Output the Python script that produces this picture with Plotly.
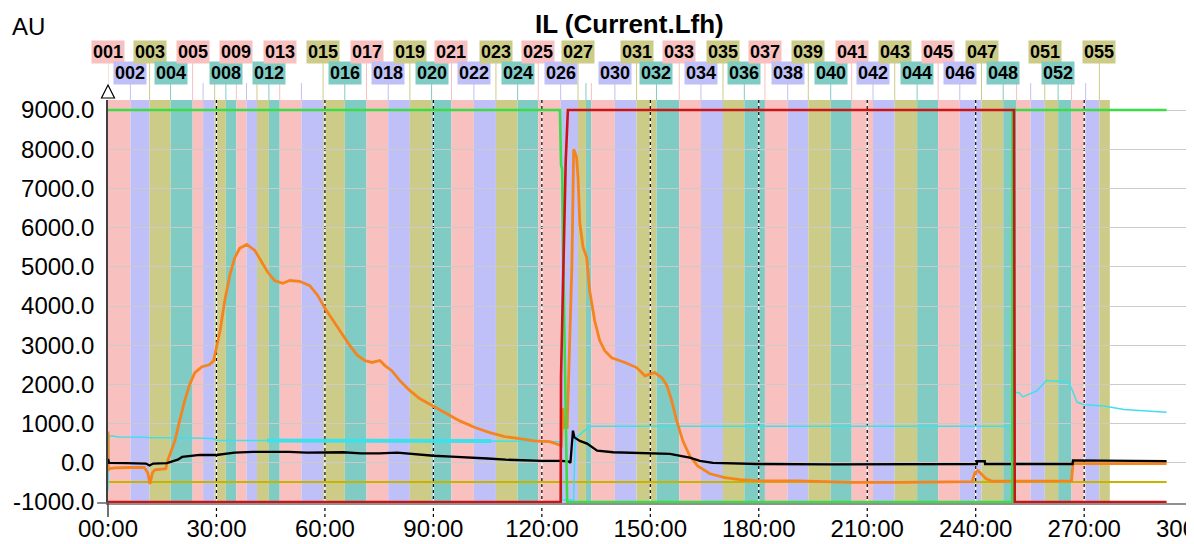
import plotly.graph_objects as go

# ---------------- data ----------------
band_starts = [0, 6.2, 11.5, 17.3, 23.4, 26.3, 29.5, 32.6, 35.5, 38.3, 41.2, 44.5, 47.5,
               53.5, 59.5, 65.5, 71.5, 77.5, 83.5, 89.5, 95.0, 101.2, 107.3, 113.3, 119.0,
               125.2, 130.0, 132.2, 133.7, 140.2, 146.2, 151.7, 158.0, 164.0, 170.1, 176.0,
               181.7, 188.0, 193.7, 199.9, 205.7, 211.6, 217.6, 223.8, 229.6, 235.6, 241.6,
               247.6, 251.3, 255.2, 259.1, 262.8, 266.5, 270.4, 274.2]
band_end = 277.1

top_labels = ["001", "003", "005", "009", "013", "015", "017", "019", "021", "023", "025",
              "027", "031", "033", "035", "037", "039", "041", "043", "045", "047", "051", "055"]
bottom_labels = ["002", "004", "008", "012", "016", "018", "020", "022", "024", "026", "030",
                 "032", "034", "036", "038", "040", "042", "044", "046", "048", "052"]

x_ticks = [0, 30, 60, 90, 120, 150, 180, 210, 240, 270, 300]
x_tick_text = ["00:00", "30:00", "60:00", "90:00", "120:00", "150:00", "180:00",
               "210:00", "240:00", "270:00", "300:00"]
y_ticks = [-1000, 0, 1000, 2000, 3000, 4000, 5000, 6000, 7000, 8000, 9000]
y_tick_text = ["-1000.0", "0.0", "1000.0", "2000.0", "3000.0", "4000.0", "5000.0",
               "6000.0", "7000.0", "8000.0", "9000.0"]

green_pts = [(0, 9000), (125.0, 9000), (125.3, 7600), (125.6, 7500), (126.0, 4700),
             (126.5, 1500), (127.0, -1000), (250.1, -1000), (250.2, 9000), (292.8, 9000)]

red_pts = [(0, -1000), (125.2, -1000), (125.3, 2200), (125.9, 4700), (126.3, 6200),
           (126.6, 7700), (127.2, 9000), (250.6, 9000), (250.8, -1000), (292.8, -1000)]

olive_pts = [(0, -490), (292.8, -490)]

cyan_pts = [(0, -700), (0.3, 700), (0.6, 690), (1.5, 680), (3, 660), (10, 650), (12, 640),
            (20, 640), (29, 620), (30, 570), (40, 565), (60, 560), (90, 560), (106, 560),
            (115, 550), (125.2, 540), (125.6, -950), (128.8, -950), (129.2, 600), (129.6, 650),
            (133.2, 930), (250.2, 930), (250.3, 4200), (250.5, 1800), (252, 1790),
            (253, 1680), (255, 1760), (257, 1840), (259.5, 2100), (265.5, 2060),
            (266.5, 1900), (268.0, 1550), (270.0, 1480), (275.5, 1450), (281.0, 1360),
            (287, 1330), (292.8, 1290)]

cyan_noisy_pts = [(44, 570), (50, 560), (60, 565), (70, 560), (80, 565), (90, 560),
                  (100, 560), (106, 555)]

orange_pts = [(0, 800), (0.05, -200), (0.3, -150), (2, -130), (6, -120), (10, -120),
              (11, -250), (11.6, -540), (12.3, -250), (13, -180), (16, -150), (16.3, 0),
              (17, 180), (18.5, 560), (19.8, 1070), (21.2, 1580), (22.6, 2000), (24, 2300),
              (26, 2450), (28, 2500), (29.2, 2600), (31, 3370), (32.3, 4140), (33.7, 4780),
              (35, 5220), (36.4, 5470), (38.4, 5570), (40.6, 5420), (42.6, 5110), (44.2, 4860),
              (46.1, 4650), (48.3, 4580), (50.3, 4650), (53, 4630), (55.8, 4520), (58, 4270),
              (60, 3940), (62.2, 3630), (64.1, 3370), (66.9, 2990), (69, 2740), (71, 2610),
              (73, 2560), (75.2, 2610), (76.6, 2480), (78.5, 2350), (80.7, 2100), (83.5, 1840),
              (86.2, 1640), (89.8, 1460), (93.1, 1280), (97.3, 1070), (101.5, 900),
              (105.6, 770), (109.7, 670), (113.9, 610), (118, 560), (122.2, 540), (123.8, 490),
              (125.4, 440), (125.8, 1400), (126.2, 900), (127, 900), (128.3, 5000),
              (128.8, 8000), (129.2, 7900), (129.6, 7800), (130.0, 7290), (130.5, 6110),
              (131.4, 5500), (132.4, 5240), (133.2, 4400), (134.6, 3630), (136, 3120),
              (137.4, 2860), (139.3, 2680), (143, 2560), (146.2, 2430), (148.5, 2220),
              (151.2, 2300), (153.2, 2170), (154.6, 1970), (155.9, 1590), (157.3, 1070),
              (159, 560), (160.9, 180), (163.1, -80), (166.5, -280), (170.6, -380),
              (174.8, -430), (180.3, -460), (191.3, -460), (205, -500), (219, -500),
              (232.8, -480), (239, -480), (239.8, -250), (240.6, -200), (241.7, -300),
              (242.8, -400), (244.5, -470), (250, -470), (251, -460), (266.5, -460),
              (266.9, 0), (267.5, -20), (292.8, -20)]

black_pts = [(0, 100), (0.3, 0), (5, -10), (10.5, -20), (11.5, -70), (12.5, -20), (16.3, -10),
             (19.3, 80), (20.5, 150), (25.4, 200), (30, 200), (35, 260), (40, 280), (45, 280),
             (50, 280), (55, 260), (60, 270), (65, 270), (70, 240), (75, 240), (80, 260),
             (85, 220), (90, 180), (95, 160), (100, 140), (105, 110), (110, 80), (115, 60),
             (120, 50), (125.5, 50), (127.5, 30), (127.9, 0), (128.3, 500), (128.6, 820),
             (129.0, 650), (130.5, 560), (132.5, 490), (135.3, 310), (139.7, 270),
             (146.3, 260), (155.4, 230), (160.9, 130), (163.7, 50), (167.3, 0), (180, -30),
             (200, -40), (220, -40), (240.3, -30), (240.4, 40), (242.5, 40), (242.6, -30),
             (266.8, -30), (266.9, 60), (268.5, 60), (270, 45), (292.8, 45)]

# ---------------- styling ----------------
band_colors = ["#F9C0C0", "#C0C0F8", "#CCCC88", "#80CCC4"]
FONT = "Arial, Liberation Sans, sans-serif"

fig = go.Figure()


def add_line(pts, color, width):
    fig.add_trace(go.Scatter(x=[p[0] for p in pts], y=[p[1] for p in pts], mode="lines",
                             line=dict(color=color, width=width), hoverinfo="skip",
                             showlegend=False))


add_line(olive_pts, "#C8B400", 2)
add_line(cyan_pts, "#3FE0EA", 1.5)
add_line(cyan_noisy_pts, "#3FE0EA", 4)
add_line(orange_pts, "#F5841F", 2.8)
add_line(black_pts, "#000000", 2.3)
add_line(green_pts, "#3CDC46", 2.6)
add_line(red_pts, "#CC1414", 2.6)

shapes = []
annotations = []
for i, s in enumerate(band_starts):
    e = band_starts[i + 1] if i + 1 < len(band_starts) else band_end
    col = band_colors[i % 4]
    shapes.append(dict(type="rect", xref="x", yref="paper", x0=s, x1=e, y0=0, y1=1,
                       fillcolor=col, line=dict(width=0), layer="below"))
    name = "%03d" % (i + 1)
    if name in top_labels:
        y1 = 1.094
        annotations.append(dict(x=s, y=1.119, xref="x", yref="paper", text="<b>%s</b>" % name,
                                showarrow=False, bgcolor=col, borderpad=1,
                                font=dict(family=FONT, size=18, color="#000000"),
                                xanchor="center", yanchor="middle"))
    elif name in bottom_labels:
        y1 = 1.042
        annotations.append(dict(x=s, y=1.067, xref="x", yref="paper", text="<b>%s</b>" % name,
                                showarrow=False, bgcolor=col, borderpad=1,
                                font=dict(family=FONT, size=18, color="#000000"),
                                xanchor="center", yanchor="middle"))
    else:
        y1 = 1.042
    shapes.append(dict(type="line", xref="x", yref="paper", x0=s, x1=s, y0=1.0, y1=y1,
                       line=dict(color=col, width=1), layer="below"))

for t in x_ticks[1:-1]:
    shapes.append(dict(type="line", xref="x", yref="paper", x0=t, x1=t, y0=-0.035, y1=1,
                       line=dict(color="#FFFFFF", width=1.2), layer="below"))
    shapes.append(dict(type="line", xref="x", yref="paper", x0=t, x1=t, y0=-0.035, y1=1,
                       line=dict(color="#000000", width=1.2, dash="3px,3px"), layer="below"))

# axis extensions and triangle marker
shapes.append(dict(type="line", xref="paper", yref="paper", x0=0, x1=0, y0=-0.035, y1=0,
                   line=dict(color="#404040", width=1.5)))
shapes.append(dict(type="line", xref="paper", yref="paper", x0=-0.01, x1=0, y0=0, y1=0,
                   line=dict(color="#606060", width=1.5)))
shapes.append(dict(type="path", xref="paper", yref="paper",
                   path="M -0.006,1.005 L 0.006,1.005 L 0,1.037 Z",
                   fillcolor="#FFFFFF", line=dict(color="#000000", width=1.2)))

annotations.append(dict(x=0.4811, y=1.1886, xref="paper", yref="paper",
                        text="<b>IL (Current.Lfh)</b>", showarrow=False,
                        font=dict(family=FONT, size=26, color="#000000"),
                        xanchor="center", yanchor="middle"))
annotations.append(dict(x=-0.0733, y=1.182, xref="paper", yref="paper", text="AU",
                        showarrow=False, font=dict(family=FONT, size=24, color="#000000"),
                        xanchor="center", yanchor="middle"))

# the page body has an 8px margin, so the figure is 8px smaller than the window
fig.update_layout(
    width=1186, height=536,
    margin=dict(l=100, r=1, t=92, b=41, autoexpand=False),
    paper_bgcolor="#FFFFFF", plot_bgcolor="#FFFFFF",
    showlegend=False, shapes=shapes, annotations=annotations,
    xaxis=dict(range=[0, 300.1], showgrid=False, zeroline=False, showline=True,
               linecolor="#909090", linewidth=1.5, ticks="outside", ticklen=3,
               tickcolor="rgba(0,0,0,0)", tickvals=x_ticks, ticktext=x_tick_text,
               ticklabeloverflow="allow",
               tickfont=dict(family=FONT, size=24, color="#000000"), automargin=False),
    yaxis=dict(range=[-1025, 9255], showgrid=True, gridcolor="#CBCBCB", gridwidth=1,
               zeroline=False, showline=True, linecolor="#404040", linewidth=1.5,
               ticks="outside", ticklen=7, tickcolor="rgba(0,0,0,0)", tickvals=y_ticks,
               ticktext=y_tick_text, tickfont=dict(family=FONT, size=24, color="#000000"),
               automargin=False),
)

fig.write_html("out.html")
